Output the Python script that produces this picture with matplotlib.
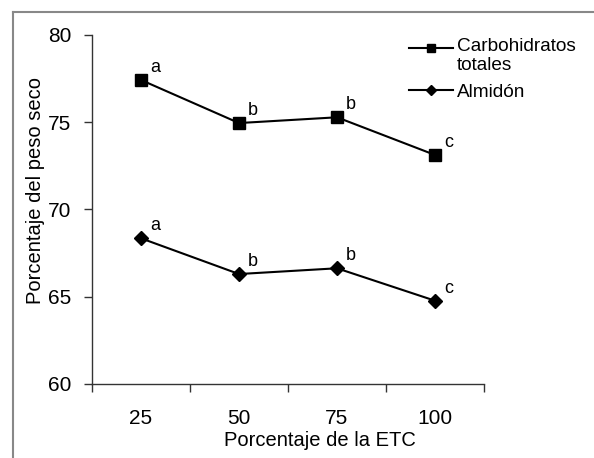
import matplotlib
matplotlib.use("Agg")
import numpy as np
import matplotlib.pyplot as plt
from matplotlib.lines import Line2D
from matplotlib.legend_handler import HandlerLine2D

plt.rcParams['font.family'] = ['Liberation Sans', 'DejaVu Sans']

categories = ["25", "50", "75", "100"]
carbohidratos = [77.42, 74.95, 75.28, 73.12]
almidon = [68.34, 66.29, 66.62, 64.76]
letters_carb = ["a", "b", "b", "c"]
letters_alm = ["a", "b", "b", "c"]


class TopHandler(HandlerLine2D):
    def __init__(self, shift, **kw):
        super().__init__(**kw)
        self.shift = shift

    def create_artists(self, legend, orig_handle, xdescent, ydescent,
                       width, height, fontsize, trans):
        arts = super().create_artists(legend, orig_handle, xdescent, ydescent,
                                      width, height, fontsize, trans)
        for a in arts:
            a.set_ydata(np.asarray(a.get_ydata(), dtype=float) + self.shift)
        return arts


fig = plt.figure(figsize=(5.94, 4.58), dpi=100)
ax = fig.add_axes([92/594, 1-383.7/458, (484-92)/594, (383.7-35)/458])

x = list(range(1, len(categories) + 1))
l1, = ax.plot(x, carbohidratos, color='black', lw=1.5, marker='s', ms=9,
              label='Carbohidratos\ntotales')
l2, = ax.plot(x, almidon, color='black', lw=1.5, marker='D', ms=7.5, label='Almidón')

for xi, yi, t in zip(x, carbohidratos, letters_carb):
    ax.annotate(t, (xi, yi), xytext=(10, 3), textcoords='offset points',
                fontsize=13, ha='center', va='bottom')
for xi, yi, t in zip(x, almidon, letters_alm):
    ax.annotate(t, (xi, yi), xytext=(10, 3), textcoords='offset points',
                fontsize=13, ha='center', va='bottom')

ax.set_xlim(0.5, 4.5)
ax.set_ylim(60, 80)
ax.set_yticks([60, 65, 70, 75, 80])
ax.set_xticks(x)
ax.set_xticklabels(categories)
ax.set_xticks([0.5, 1.5, 2.5, 3.5, 4.5], minor=True)
ax.tick_params(axis='x', which='major', length=0, pad=18, labelsize=15)
ax.tick_params(axis='x', which='minor', length=6, width=1, color='#333333')
ax.tick_params(axis='y', length=6, width=1, color='#333333', labelsize=15, pad=9)

for s in ['top', 'right']:
    ax.spines[s].set_visible(False)
for s in ['left', 'bottom']:
    ax.spines[s].set_color('#333333')
    ax.spines[s].set_linewidth(1)

ax.set_xlabel('Porcentaje de la ETC', fontsize=14.5)
ax.xaxis.set_label_coords((320 - 92) / 392, (383.7 - 440) / 348.7)
ax.xaxis.label.set_va('center')
ax.set_ylabel('Porcentaje del peso seco', fontsize=14.5)
ax.yaxis.set_label_coords((36 - 92) / 392, (383.7 - 191) / 348.7)
ax.yaxis.label.set_va('center')

leg = ax.legend(handles=[l1, l2], loc='upper left', bbox_to_anchor=(0.79, 1.012),
                frameon=False, fontsize=13.7, handlelength=2.3, handletextpad=0.2,
                labelspacing=0.5, borderaxespad=0.0, markerscale=0.7,
                handler_map={l1: TopHandler(6.0)})
leg.get_texts()[0].set_linespacing(1.12)

# outer figure frame (cropped at right and bottom)
fig.add_artist(Line2D([13/594, 13/594], [0, 1-12/458], transform=fig.transFigure,
                      color='#888888', lw=1.5))
fig.add_artist(Line2D([13/594, 1], [1-12/458, 1-12/458], transform=fig.transFigure,
                      color='#888888', lw=1.5))

fig.savefig('out.png', dpi=100)
